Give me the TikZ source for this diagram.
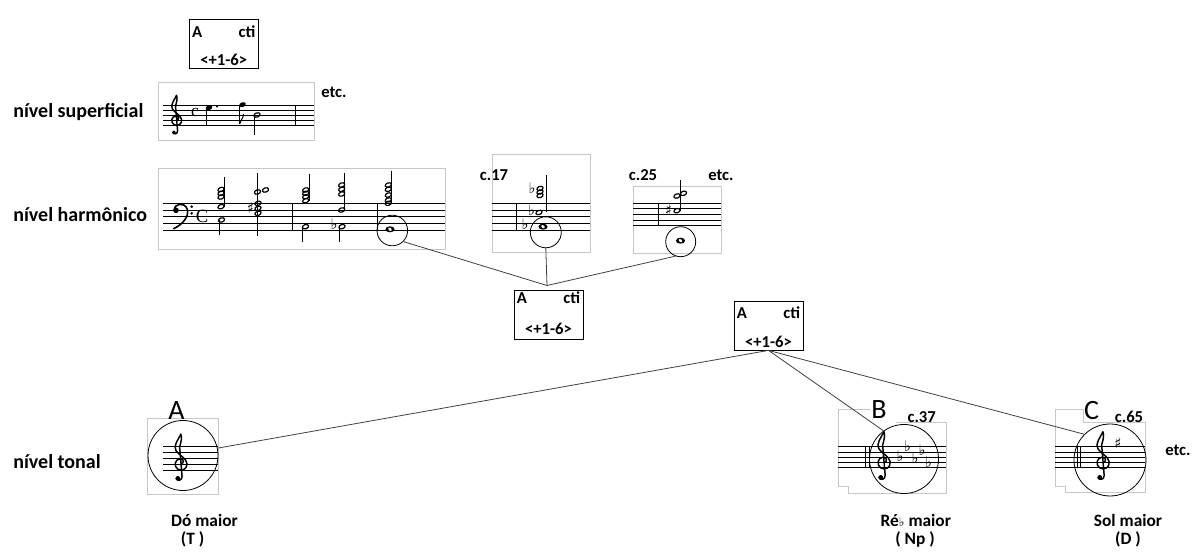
\documentclass[tikz,border=0pt]{standalone}
\usepackage{fontspec}
\setmainfont{Carlito}
\newfontfamily\musfont{DejaVu Sans}
\newfontfamily\serifC{Liberation Serif}
\newcounter{gl}
\newcommand\hh[2]{\draw[line width=0.9pt, rotate around={20:(#1,#2)}] (#1,#2) ellipse (3.2 and 2.1);}
\newcommand\fh[2]{\fill[rotate around={20:(#1,#2)}] (#1,#2) ellipse (3.4 and 2.4);}
\newcommand\wh[2]{\fill (#1,#2) ellipse (4.6 and 3); \fill[white, rotate around={-40:(#1,#2)}] (#1,#2) ellipse (2.0 and 1.3);}
\newcommand\stm[3]{\draw[line width=0.6pt] (#1,#2) -- (#1,#3);}
\newcommand\acc[3]{\stepcounter{gl}\node[inner sep=0, font=\musfont\fontsize{11}{11}\selectfont] (g\arabic{gl}) at (#1,#2) {#3};}
\newcommand\stafflines[4]{\foreach \k in {0,...,4}{\draw[line width=0.6pt] (#1,{#3+\k*#4}) -- (#2,{#3+\k*#4});}}
% treble clef drawn as a shape: x centre, y of G line, size of one staff space
\newcommand\gclef[3]{\begin{scope}[shift={(#1,#2)}, scale=#3]
 \draw[line width=1.1pt, line join=round, line cap=round]
  (0.3,0) .. controls (0.9,-0.1) and (0.85,-0.9) .. (0.15,-0.85)
  .. controls (-0.7,-0.8) and (-0.9,0.4) .. (-0.2,0.85)
  .. controls (0.5,1.25) and (1.4,0.8) .. (1.3,-0.1)
  .. controls (1.2,-1.0) and (0.0,-1.4) .. (-0.5,-2.2)
  .. controls (-1.0,-3.0) and (-0.1,-4.0) .. (0.3,-4.9)
  .. controls (0.55,-4.3) and (0.3,-3.5) .. (0.1,-2.8)
  -- (0.5,2.0)
  .. controls (0.6,2.7) and (-0.3,2.9) .. (-0.45,2.35);
 \fill (-0.2,2.35) circle (0.38);
\end{scope}}
% bass clef drawn as a shape: x of dot, y of F line, size of one staff space
\newcommand\fclef[3]{\begin{scope}[shift={(#1,#2)}, scale=#3]
 \fill (0.15,0.05) circle (0.42);
 \draw[line width=1.2pt, line cap=round]
  (-0.15,0.05) .. controls (-0.2,-0.9) and (1.4,-1.35) .. (1.85,-0.1)
  .. controls (2.15,1.0) and (1.1,2.2) .. (-0.2,2.8);
 \fill (2.5,-0.5) circle (0.22);
 \fill (2.5,0.5) circle (0.22);
\end{scope}}
\begin{document}
\begin{tikzpicture}[x=0.75pt,y=-0.75pt]
\tikzset{
 lvl/.style={font=\fontsize{15}{18}\selectfont\bfseries, anchor=west, inner sep=0},
 small/.style={font=\fontsize{12.5}{15}\selectfont\bfseries, inner sep=0},
 keyl/.style={font=\fontsize{13}{15}\selectfont\bfseries, inner sep=0},
 bigl/.style={font=\fontsize{21}{23}\selectfont, inner sep=0},
 frame/.style={draw=black!22, line width=0.7pt},
 ctibox/.style={draw, line width=0.6pt, minimum width=69*0.75pt, minimum height=49*0.75pt, inner sep=0},
 ring/.style={circle, draw, line width=0.6pt, inner sep=0},
 conn/.style={line width=0.6pt, draw=black!75},
}
\useasboundingbox (0,0) rectangle (1193,555);

% ---------- level labels ----------
\node[lvl] (l1) at (13,112) {nível superficial};
\node[lvl] (l2) at (13,215) {nível harmônico};
\node[lvl] (l3) at (13,462) {nível tonal};

% ---------- top cti box ----------
\node[ctibox] (b0) at (223.7,43.7) {};
\node[small, anchor=west] (b0a) at ([shift={(3,13)}]b0.north west) {A};
\node[small, anchor=east] (b0c) at ([shift={(-3,13)}]b0.north east) {cti};
\node[small] (b0r) at ([shift={(0,-8.5)}]b0.south) {<+1-6>};

% ---------- surface level ----------
\draw[frame] (158,82.3) rectangle (314,140);
\stafflines{163}{314}{105.3}{5}
\draw[line width=0.6pt] (295,105.3) -- (295,125.3);
\gclef{175}{120.3}{5.1}
\node[inner sep=0, font=\serifC\fontsize{13}{13}\selectfont] (tc1) at (195,113) {c};
\fh{209}{107.7}\stm{206}{107.7}{126.5}
\fill (217,106.5) circle (1.2);
\fh{242.5}{104.7}\stm{239.7}{104.7}{124}
\draw[line width=0.8pt] (239.7,124) .. controls (240.5,120) and (243.5,118) .. (243.5,114);
\hh{257}{115}\stm{254.3}{115}{135}
\node[small] (etc1) at (334,92) {etc.};

% ---------- harmonic level ----------
\draw[frame] (158,168.3) rectangle (445,249);
\stafflines{163}{445}{203.3}{6.67}
\fclef{175}{210}{6.67}
\node[inner sep=0, font=\serifC\fontsize{14}{14}\selectfont] (tc2) at (202,216.5) {C};
% chord 1
\hh{221}{189.5}\hh{221}{193.3}\hh{221}{197}\hh{221}{206.7}\stm{224}{176.7}{206.7}
\hh{221.5}{220}\stm{219}{220}{235.5}
% chord 2
\hh{257.5}{192}\hh{265.5}{190}\hh{258}{203.3}\hh{258}{208.3}\hh{258}{213.3}
\acc{250.5}{208.3}{♯}\stm{257.3}{173.3}{236}
\draw[line width=0.6pt] (292,203.3) -- (292,230);
% chord 3
\hh{305.7}{190}\hh{305.7}{193.3}\hh{305.7}{196.7}\hh{305.7}{200.7}\stm{309.7}{174}{200.7}
\hh{305.5}{226.7}\stm{302.6}{226.7}{241.7}
% chord 4
\hh{341.7}{185}\hh{341.7}{189.3}\hh{341.7}{194}\hh{341.7}{210}\stm{344.8}{172.7}{210}
\hh{342}{226.7}\acc{334}{224.5}{♭}\stm{339.3}{226.7}{241.7}
\draw[line width=0.6pt] (377,203.3) -- (377,230);
% chord 5
\hh{388.3}{185}\hh{388.3}{189.3}\hh{388.3}{195}\hh{388.3}{200}\hh{388.3}{203.3}\stm{391.5}{170.7}{203.3}
\wh{390}{229.3}
\node[ring, minimum size=30.6*0.75pt] (c5) at (392.3,230.5) {};

% ---------- c.17 ----------
\draw[frame] (492,154) rectangle (590,252);
\stafflines{492}{590}{203.3}{6.67}
\draw[line width=0.6pt] (516,203.3) -- (516,230);
\node[small] (t17) at (494,175) {c.17};
\hh{540}{188.5}\hh{540}{192}\hh{540}{195.5}\acc{532}{188.5}{♭}
\hh{539}{212.5}\acc{531.5}{210}{♭}\stm{546.5}{175}{212.5}
\wh{543}{226.7}\acc{525}{224.5}{♭}
\node[ring, minimum size=31*0.75pt] (c17) at (545.8,232.3) {};

% ---------- c.25 ----------
\draw[frame] (633,186) rectangle (721,253);
\stafflines{633}{721}{203.3}{5.6}
\draw[line width=0.6pt] (658.3,203.3) -- (658.3,225.7);
\node[small] (t25) at (643,175) {c.25};
\node[small] (etc2) at (721,175) {etc.};
\hh{677}{196}\hh{683.5}{193.3}\hh{677}{210.7}\acc{668.5}{210.5}{♯}\stm{680.7}{180}{210.7}
\wh{680.5}{240.7}
\node[ring, minimum size=30*0.75pt] (c25) at (680.7,241.7) {};

% ---------- middle cti box ----------
\coordinate (apex) at (547,285.5);
\node[ctibox] (b1) at (548.5,314.5) {};
\node[small, anchor=west] (b1a) at ([shift={(3,8.5)}]b1.north west) {A};
\node[small, anchor=east] (b1c) at ([shift={(-3,8.5)}]b1.north east) {cti};
\node[small] (b1r) at ([shift={(0,-11)}]b1.south) {<+1-6>};
\draw[conn] (c5.-45) -- (apex);
\draw[conn] (c17.south) -- (apex);
\draw[conn] (c25.250) -- (apex);

% ---------- right cti box ----------
\node[ctibox] (b2) at (768.5,325.5) {};
\node[small, anchor=west] (b2a) at ([shift={(3,12)}]b2.north west) {A};
\node[small, anchor=east] (b2c) at ([shift={(-3,12)}]b2.north east) {cti};
\node[small] (b2r) at ([shift={(0,-8.5)}]b2.south) {<+1-6>};

% ---------- tonal level: A ----------
\draw[frame] (147.7,418.3) rectangle (218.3,494);
\stafflines{163.3}{218.3}{446}{6}
\gclef{179}{464}{6.1}
\node[ring, minimum size=70*0.75pt] (circA) at (183,455.5) {};
\node[bigl] (LA) at (176.5,411) {A};
\node[keyl] (kA1) at (204.5,520.5) {Dó maior};
\node[keyl] (kA2) at (192.5,539.5) {(T )};

% ---------- tonal level: B ----------
\draw[frame] (870,409.7) -- (838,409.7) -- (838,486.7) -- (848.3,486.7) -- (848.3,493.3) -- (946,493.3) -- (946,422) -- (896,422);
\stafflines{838}{946}{446.7}{5.3}
\draw[line width=0.6pt] (865.7,446.7) -- (865.7,467.9);
\draw[line width=0.6pt] (869,446.7) -- (869,467.9);
\gclef{882}{462.6}{6.3}
\acc{900}{456}{♭}\acc{907.5}{446}{♭}\acc{915}{458.5}{♭}\acc{922}{450}{♭}\acc{928.5}{462}{♭}
\node[ring, minimum size=69*0.75pt] (circB) at (904,459) {};
\node[bigl] (LB) at (879,410) {B};
\node[small] (t37) at (921.7,417.5) {c.37};
\node[keyl] (kB1) at (915.8,520.5) {Ré{\musfont\fontsize{9}{9}\selectfont ♭} maior};
\node[keyl] (kB2) at (915,539.5) {( Np )};

% ---------- tonal level: C ----------
\draw[frame] (1055,409.7) -- (1083.3,409.7) -- (1083.3,422) -- (1145,422) -- (1145,492.7) -- (1065,492.7) -- (1065,486.7) -- (1055,486.7) -- cycle;
\stafflines{1055}{1145}{446.7}{5.3}
\draw[line width=0.6pt] (1077,446.7) -- (1077,467.9);
\draw[line width=0.6pt] (1080.3,446.7) -- (1080.3,467.9);
\gclef{1101}{462.6}{6.3}
\acc{1118}{443}{♯}
\node[ring, minimum size=72*0.75pt] (circC) at (1110,460) {};
\node[bigl] (LC) at (1091.5,411) {C};
\node[small] (t65) at (1129,417) {c.65};
\node[small] (etc3) at (1178,450) {etc.};
\node[keyl] (kC1) at (1128,520.5) {Sol maior};
\node[keyl] (kC2) at (1128,539.5) {(D )};

% ---------- tonal connectors ----------
\draw[conn] (b2.south) -- (circA.12);
\draw[conn] (b2.south) -- (circB.126);
\draw[conn] (b2.south) -- (circC.135);
\end{tikzpicture}
\end{document}
